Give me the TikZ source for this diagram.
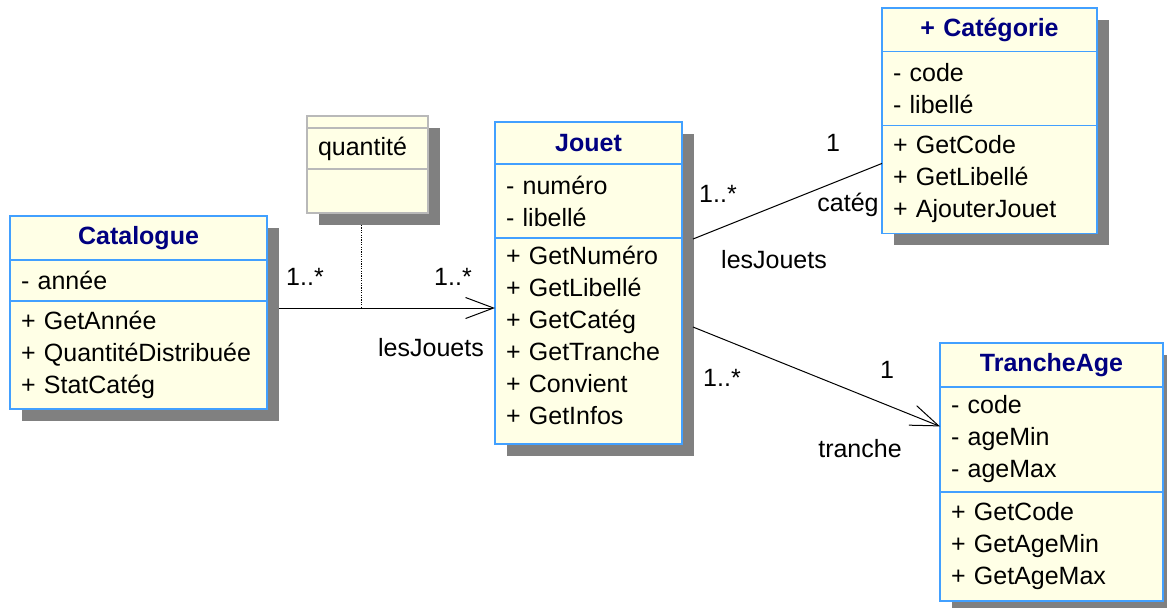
\documentclass[tikz,border=0pt]{standalone}
\usepackage{fontspec}
\setmainfont{Liberation Sans}
\usetikzlibrary{positioning,arrows.meta,backgrounds}
\definecolor{umlfill}{RGB}{255,255,230}
\definecolor{umlline}{RGB}{66,160,255}
\definecolor{umlnavy}{RGB}{0,0,128}
\definecolor{umlshadow}{RGB}{128,128,128}
\definecolor{assocgray}{RGB}{185,185,185}
\newcommand{\umlfont}{\fontsize{12.5}{16}\selectfont}
\tikzset{
  umlpart/.style={draw=umlline, fill=umlfill, line width=0.6pt, inner xsep=5.5pt, inner ysep=0pt,
    outer sep=0pt, text width=#1, align=left, font=\umlfont},
  umltitle/.style={umlpart=#1, align=center, minimum height=22pt, text=umlnavy, font=\umlfont\bfseries},
  lbl/.style={font=\umlfont, anchor=base, inner sep=0pt},
  assoc/.style={line width=0.5pt},
  navarrow/.style={-{Straight Barb[length=14pt,width=10.5pt]}},
}
\begin{document}
\begin{tikzpicture}[x=0.5pt,y=-0.5pt]
\useasboundingbox (0,0) rectangle (1167,607);
% classes
\node[umltitle=117.5pt, anchor=north west] (catT) at (10,216) {Catalogue};
\node[umlpart=117.5pt, below=0pt of catT, minimum height=20.5pt] (catA) {- année};
\node[umlpart=117.5pt, below=0pt of catA, minimum height=54pt] (catM) {+ GetAnnée\\+ QuantitéDistribuée\\+ StatCatég};
\node[umltitle=82.5pt, anchor=north west, minimum height=21pt] (jouT) at (495,122) {Jouet};
\node[umlpart=82.5pt, below=0pt of jouT, minimum height=37pt] (jouA) {- numéro\\- libellé};
\node[umlpart=82.5pt, below=0pt of jouA, minimum height=103pt] (jouM) {+ GetNuméro\\+ GetLibellé\\+ GetCatég\\+ GetTranche\\+ Convient\\+ GetInfos\\[-10pt]\mbox{}};
\node[umltitle=96.5pt, anchor=north west, minimum height=21.7pt] (catgT) at (882,8) {+ Catégorie};
\node[umlpart=96.5pt, below=0pt of catgT, minimum height=37pt] (catgA) {- code\\- libellé};
\node[umlpart=96.5pt, below=0pt of catgA, minimum height=54pt] (catgM) {+ GetCode\\+ GetLibellé\\+ AjouterJouet};
\node[umltitle=100.5pt, anchor=north west] (traT) at (940,343) {TrancheAge};
\node[umlpart=100.5pt, below=0pt of traT, minimum height=52.5pt] (traA) {- code\\- ageMin\\- ageMax};
\node[umlpart=100.5pt, below=0pt of traA, minimum height=54.5pt] (traM) {+ GetCode\\+ GetAgeMin\\+ GetAgeMax};
% association class
\node[umlpart=49.5pt, draw=assocgray, anchor=north west, minimum height=6pt] (quaT) at (307,116) {};
\node[umlpart=49.5pt, draw=assocgray, below=0pt of quaT, minimum height=20.5pt] (quaA) {quantité};
\node[umlpart=49.5pt, draw=assocgray, below=0pt of quaA, minimum height=22pt] (quaM) {};
\begin{scope}[on background layer]
\foreach \t/\m in {catT/catM,jouT/jouM,catgT/catgM,traT/traM,quaT/quaM}
  \fill[umlshadow] ([xshift=6pt,yshift=-6pt]\t.north west) rectangle ([xshift=6pt,yshift=-6pt]\m.south east);
\end{scope}
% associations
\draw[assoc,navarrow] ([xshift=6pt,yshift=-3.5pt]catM.north east) coordinate (lienA) -- (lienA -| jouM.west);
\draw[assoc,dash pattern=on 0.6pt off 0.6pt] ([xshift=-3.25pt,yshift=-6pt]quaM.south) coordinate (qtop) -- (qtop |- lienA);
\draw[assoc] ([xshift=5.5pt,yshift=-0.5pt]jouA.south east) -- ([yshift=-19pt]catgM.north west);
\draw[assoc,navarrow] ([xshift=5.5pt,yshift=-44.5pt]jouM.north east) -- ([yshift=-19.7pt]traA.north west);
% roles and multiplicities
\node[lbl] (mA1) at (305,285) {1..*};
\node[lbl] (mA2) at (453,285) {1..*};
\node[lbl] (rA) at (431,356) {lesJouets};
\node[lbl] (mB1) at (718,202) {1..*};
\node[lbl] (mB2) at (833,151) {1};
\node[lbl] (rB1) at (848,211) {catég};
\node[lbl] (rB2) at (774,268) {lesJouets};
\node[lbl] (mC1) at (722,386) {1..*};
\node[lbl] (mC2) at (887,378) {1};
\node[lbl] (rC) at (860,457) {tranche};
\end{tikzpicture}
\end{document}
